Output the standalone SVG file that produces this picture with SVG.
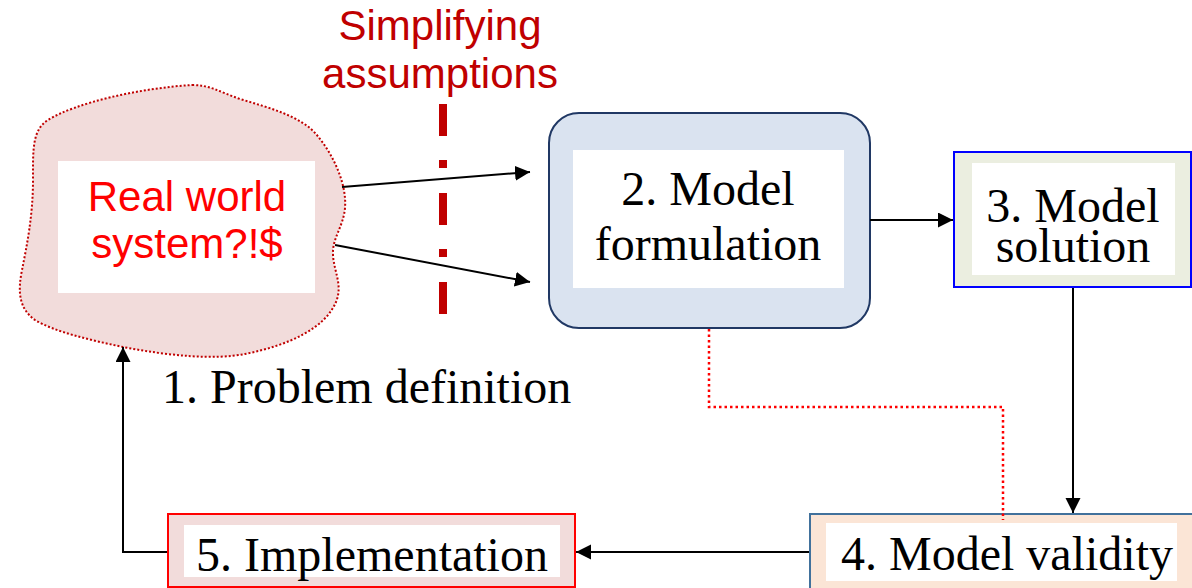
<svg xmlns="http://www.w3.org/2000/svg" width="1192" height="588" viewBox="0 0 1192 588">
  <defs>
    <marker id="arrow" markerUnits="userSpaceOnUse" markerWidth="16" markerHeight="16" refX="15" refY="7.5" orient="auto">
      <path d="M0,0 L15,7.5 L0,15 z" fill="#000"/>
    </marker>
    <style>
      .serif { font-family: "Liberation Serif", "Times New Roman", serif; font-size: 48px; fill: #000; text-anchor: middle; }
      .sans { font-family: "Liberation Sans", Arial, sans-serif; font-size: 42px; text-anchor: middle; }
      .conn { fill: none; stroke: #000; stroke-width: 2; }
      .inner { fill: #fff; }
    </style>
  </defs>
  <rect width="1192" height="588" fill="#fff"/>

  <!-- simplifying assumptions divider -->
  <g id="assumptions">
    <text class="sans" x="440" y="40" fill="#c00000">Simplifying</text>
    <text class="sans" x="440" y="88" fill="#c00000">assumptions</text>
    <line x1="443" y1="104" x2="443" y2="314" stroke="#c00000" stroke-width="8" stroke-dasharray="32 24 8 25"/>
  </g>

  <!-- 1. real world system (cloud) -->
  <g id="node-real-world">
    <path d="M192,85 C210,85 220,92 240,99 C270,108 300,116 316,134 C334,155 347,185 345,208 C343,228 332,238 333,255 C334,272 343,285 336,302 C325,328 290,345 245,354 C215,360 170,356 123,347 C90,340 55,332 35,320 C18,308 18,290 22,270 C27,245 33,215 33,180 C33,150 32,130 48,120 C75,103 140,88 192,85 Z" fill="#f2dcdb" stroke="#c00000" stroke-width="2" stroke-dasharray="2 2"/>
    <rect class="inner" x="58" y="161" width="257" height="132"/>
    <text class="sans" x="187" y="211" fill="#ff0000">Real world</text>
    <text class="sans" x="187" y="258" fill="#ff0000">system?!$</text>
  </g>

  <g id="label-problem">
    <text class="serif" x="162" y="403" style="text-anchor:start">1. Problem definition</text>
  </g>

  <!-- 2. model formulation -->
  <g id="node-formulation">
    <rect x="549" y="113" width="321" height="215" rx="30" ry="30" fill="#dae3f0" stroke="#203864" stroke-width="2"/>
    <rect class="inner" x="573" y="150" width="271" height="138"/>
    <text class="serif" x="708" y="205">2. Model</text>
    <text class="serif" x="708" y="260">formulation</text>
  </g>

  <!-- 3. model solution -->
  <g id="node-solution">
    <rect x="954" y="152" width="237" height="135" fill="#ebeee0" stroke="#0000ff" stroke-width="2"/>
    <rect class="inner" x="972" y="163" width="203" height="112"/>
    <text class="serif" x="1073" y="222">3. Model</text>
    <text class="serif" x="1073" y="262">solution</text>
  </g>

  <!-- 4. model validity -->
  <g id="node-validity">
    <rect x="810" y="514" width="390" height="90" fill="#fbe5d6" stroke="#41719c" stroke-width="2"/>
    <rect class="inner" x="826" y="523" width="351" height="58"/>
    <text class="serif" x="1007" y="570">4. Model validity</text>
  </g>

  <!-- 5. implementation -->
  <g id="node-implementation">
    <rect x="168" y="514" width="407" height="73" fill="#f2dcdb" stroke="#ff0000" stroke-width="2"/>
    <rect class="inner" x="184" y="525" width="376" height="52"/>
    <text class="serif" x="372" y="571">5. Implementation</text>
  </g>

  <!-- connectors -->
  <g id="connectors">
    <line class="conn" x1="342" y1="187" x2="530" y2="172" marker-end="url(#arrow)"/>
    <line class="conn" x1="335" y1="245" x2="530" y2="282" marker-end="url(#arrow)"/>
    <line class="conn" x1="870" y1="220" x2="953" y2="220" marker-end="url(#arrow)"/>
    <line class="conn" x1="1073" y1="288" x2="1073" y2="513" marker-end="url(#arrow)"/>
    <line class="conn" x1="809" y1="552" x2="576" y2="552" marker-end="url(#arrow)"/>
    <polyline class="conn" points="167,552 123,552 123,347" marker-end="url(#arrow)"/>
    <polyline points="709,329 709,407 1003,407 1003,520" fill="none" stroke="#ff0000" stroke-width="2.5" stroke-dasharray="2.5 3"/>
  </g>
</svg>
